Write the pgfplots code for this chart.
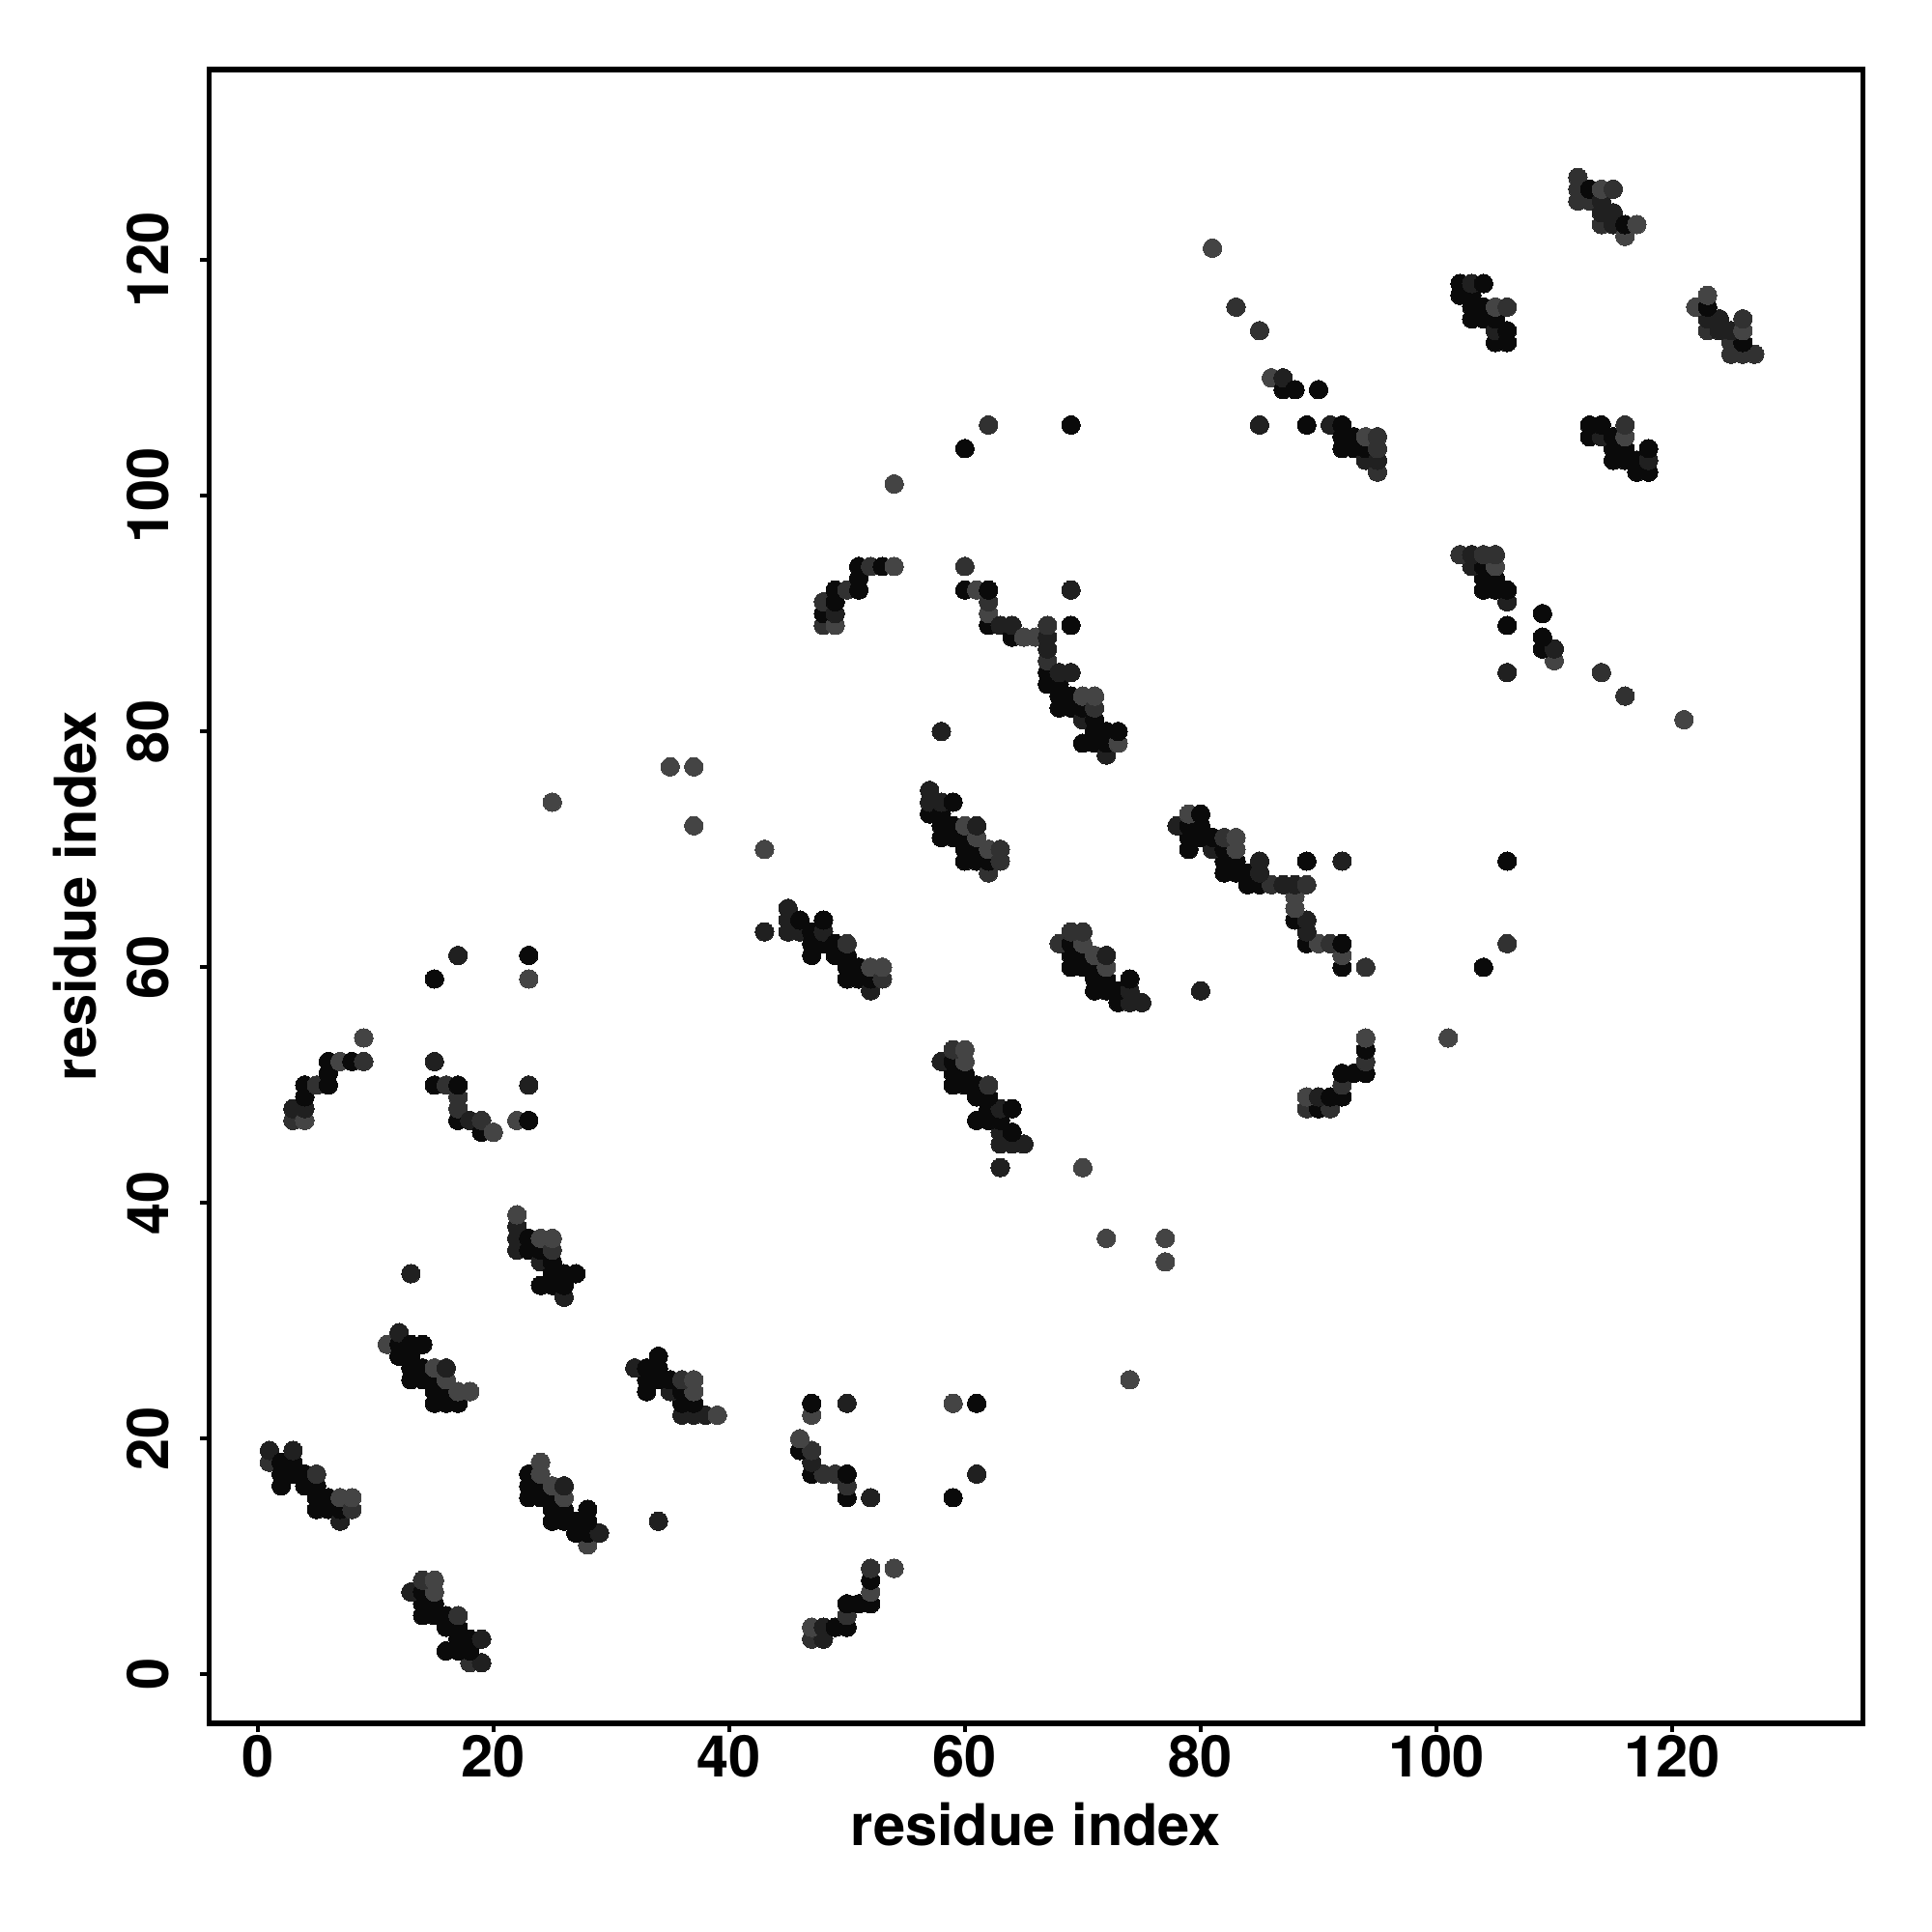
\documentclass[border=0pt]{standalone}
\usepackage{pgfplots}
\usepackage{pgfplotstable}
\pgfplotsset{compat=1.18}
\usepackage{fontspec}
\setmainfont{TeX Gyre Heros}
\pgfplotstableread{
a b l
1 18 2
1 19 1
2 16 0
2 17 0
2 18 0
3 17 0
3 18 0
3 19 1
3 47 2
3 48 1
4 16 0
4 17 0
4 47 3
4 48 1
4 49 0
4 50 0
5 14 0
5 15 0
5 16 0
5 17 2
5 50 2
6 14 0
6 15 0
6 50 0
6 51 0
6 52 0
7 13 1
7 14 0
7 15 3
7 52 3
8 14 2
8 15 3
8 52 0
9 52 2
9 54 3
11 28 3
12 27 0
12 28 0
12 29 1
13 25 0
13 26 0
13 27 0
13 28 0
13 34 1
14 25 0
14 26 0
14 28 0
15 23 0
15 24 0
15 25 0
15 26 3
15 50 0
15 52 1
15 59 0
16 23 0
16 24 0
16 25 3
16 26 1
16 50 2
17 23 0
17 24 3
17 47 0
17 48 2
17 49 2
17 50 0
17 61 1
18 24 3
18 47 1
19 46 0
19 47 2
20 46 3
22 36 1
22 37 1
22 38 1
22 39 3
22 47 3
23 36 0
23 37 0
23 47 0
23 50 1
23 59 3
23 61 0
24 33 0
24 35 1
24 36 0
24 37 3
25 33 0
25 34 0
25 35 0
25 36 2
25 37 3
25 74 3
26 32 1
26 33 0
26 34 0
27 34 0
35 77 3
37 72 3
37 77 3
43 63 1
43 70 3
45 63 1
45 64 1
45 65 1
46 63 1
46 64 0
47 61 0
47 62 0
47 63 0
48 62 0
48 63 1
48 64 0
48 89 2
48 90 0
48 91 2
49 61 0
49 62 0
49 89 3
49 90 1
49 91 0
49 92 0
50 59 0
50 60 0
50 61 0
50 62 2
50 92 2
51 59 0
51 60 0
51 92 0
51 93 0
51 94 0
52 58 1
52 59 0
52 60 3
52 94 2
53 59 2
53 60 3
53 94 0
54 94 3
54 101 3
57 73 0
57 74 1
57 75 1
58 71 0
58 72 0
58 73 0
58 74 1
58 80 1
59 71 0
59 72 0
59 74 0
60 69 0
60 70 0
60 71 0
60 72 3
60 92 0
60 94 2
60 104 0
61 69 0
61 70 0
61 71 3
61 72 1
61 92 3
62 68 2
62 69 0
62 70 3
62 89 0
62 90 3
62 91 2
62 92 0
62 106 2
63 69 2
63 70 2
63 89 1
64 88 0
64 89 1
65 88 3
66 88 3
67 84 0
67 85 0
67 86 2
67 87 1
67 88 1
67 89 2
68 82 0
68 83 0
68 84 0
68 85 1
69 82 0
69 83 0
69 85 1
69 89 0
69 92 1
69 106 0
70 79 0
70 81 1
70 82 0
70 83 3
71 79 0
71 80 0
71 81 0
71 82 2
71 83 3
72 78 1
72 79 0
72 80 0
73 79 3
73 80 0
81 121 3
83 116 2
85 106 1
85 114 2
86 110 3
87 109 0
87 110 1
88 109 0
89 106 0
90 109 0
91 106 1
92 104 0
92 105 0
92 106 0
93 104 0
93 105 0
94 103 1
94 104 0
94 105 3
95 102 2
95 103 1
95 104 2
95 105 2
102 117 0
102 118 0
103 115 0
103 116 0
103 117 0
103 118 1
104 115 0
104 116 0
104 118 0
105 113 0
105 114 1
105 115 0
105 116 3
106 113 0
106 114 0
106 116 2
112 125 2
112 126 2
112 127 2
113 125 2
113 126 0
114 123 2
114 124 1
114 125 1
114 126 3
115 123 1
115 124 1
115 126 2
116 122 3
116 123 0
117 123 3
}\contacts
\begin{document}
\begin{tikzpicture}
\path[use as bounding box] (-54.08pt,-54.05pt) rectangle (445.92pt,445.95pt);
\begin{axis}[
  at={(0pt,0pt)}, anchor=south west,
  scale only axis, width=428pt, height=428pt,
  xmin=-4.13, xmax=136.17, ymin=-4.13, ymax=136.17,
  axis line style={line width=1.4pt},
  xtick={0,20,...,120}, ytick={0,20,...,120},
  tick align=outside, tick pos=left,
  major tick length=2.3pt,
  every tick/.style={black,line width=1pt},
  tick label style={font=\fontsize{14.9}{16}\selectfont\bfseries},
  /pgf/number format/assume math mode=true,
  yticklabel style={rotate=90,anchor=south,yshift=4.4pt},
  xticklabel style={anchor=north,yshift=2.8pt},
  xlabel={residue index}, ylabel={residue index},
  label style={font=\fontsize{14.9}{16}\selectfont\bfseries},
  xlabel style={at={([yshift=-31.7pt]axis description cs:0.5,0)},anchor=base},
  ylabel style={at={([xshift=-29.2pt]axis description cs:0,0.5)},anchor=base},
  colormap={greys}{gray(0cm)=(0.04); gray(1cm)=(0.125); gray(2cm)=(0.19); gray(3cm)=(0.265)},
  point meta min=0, point meta max=3,
  clip=true,
]
\addplot[scatter, only marks, mark=*, mark size=2.4pt, point meta=explicit, scatter/use mapped color={draw=mapped color,fill=mapped color}, mark options={line width=0pt}]
  table[x=a,y=b,meta=l]{\contacts};
\addplot[scatter, only marks, mark=*, mark size=2.4pt, point meta=explicit, scatter/use mapped color={draw=mapped color,fill=mapped color}, mark options={line width=0pt}]
  table[x=b,y=a,meta=l]{\contacts};
\end{axis}
\end{tikzpicture}
\end{document}
